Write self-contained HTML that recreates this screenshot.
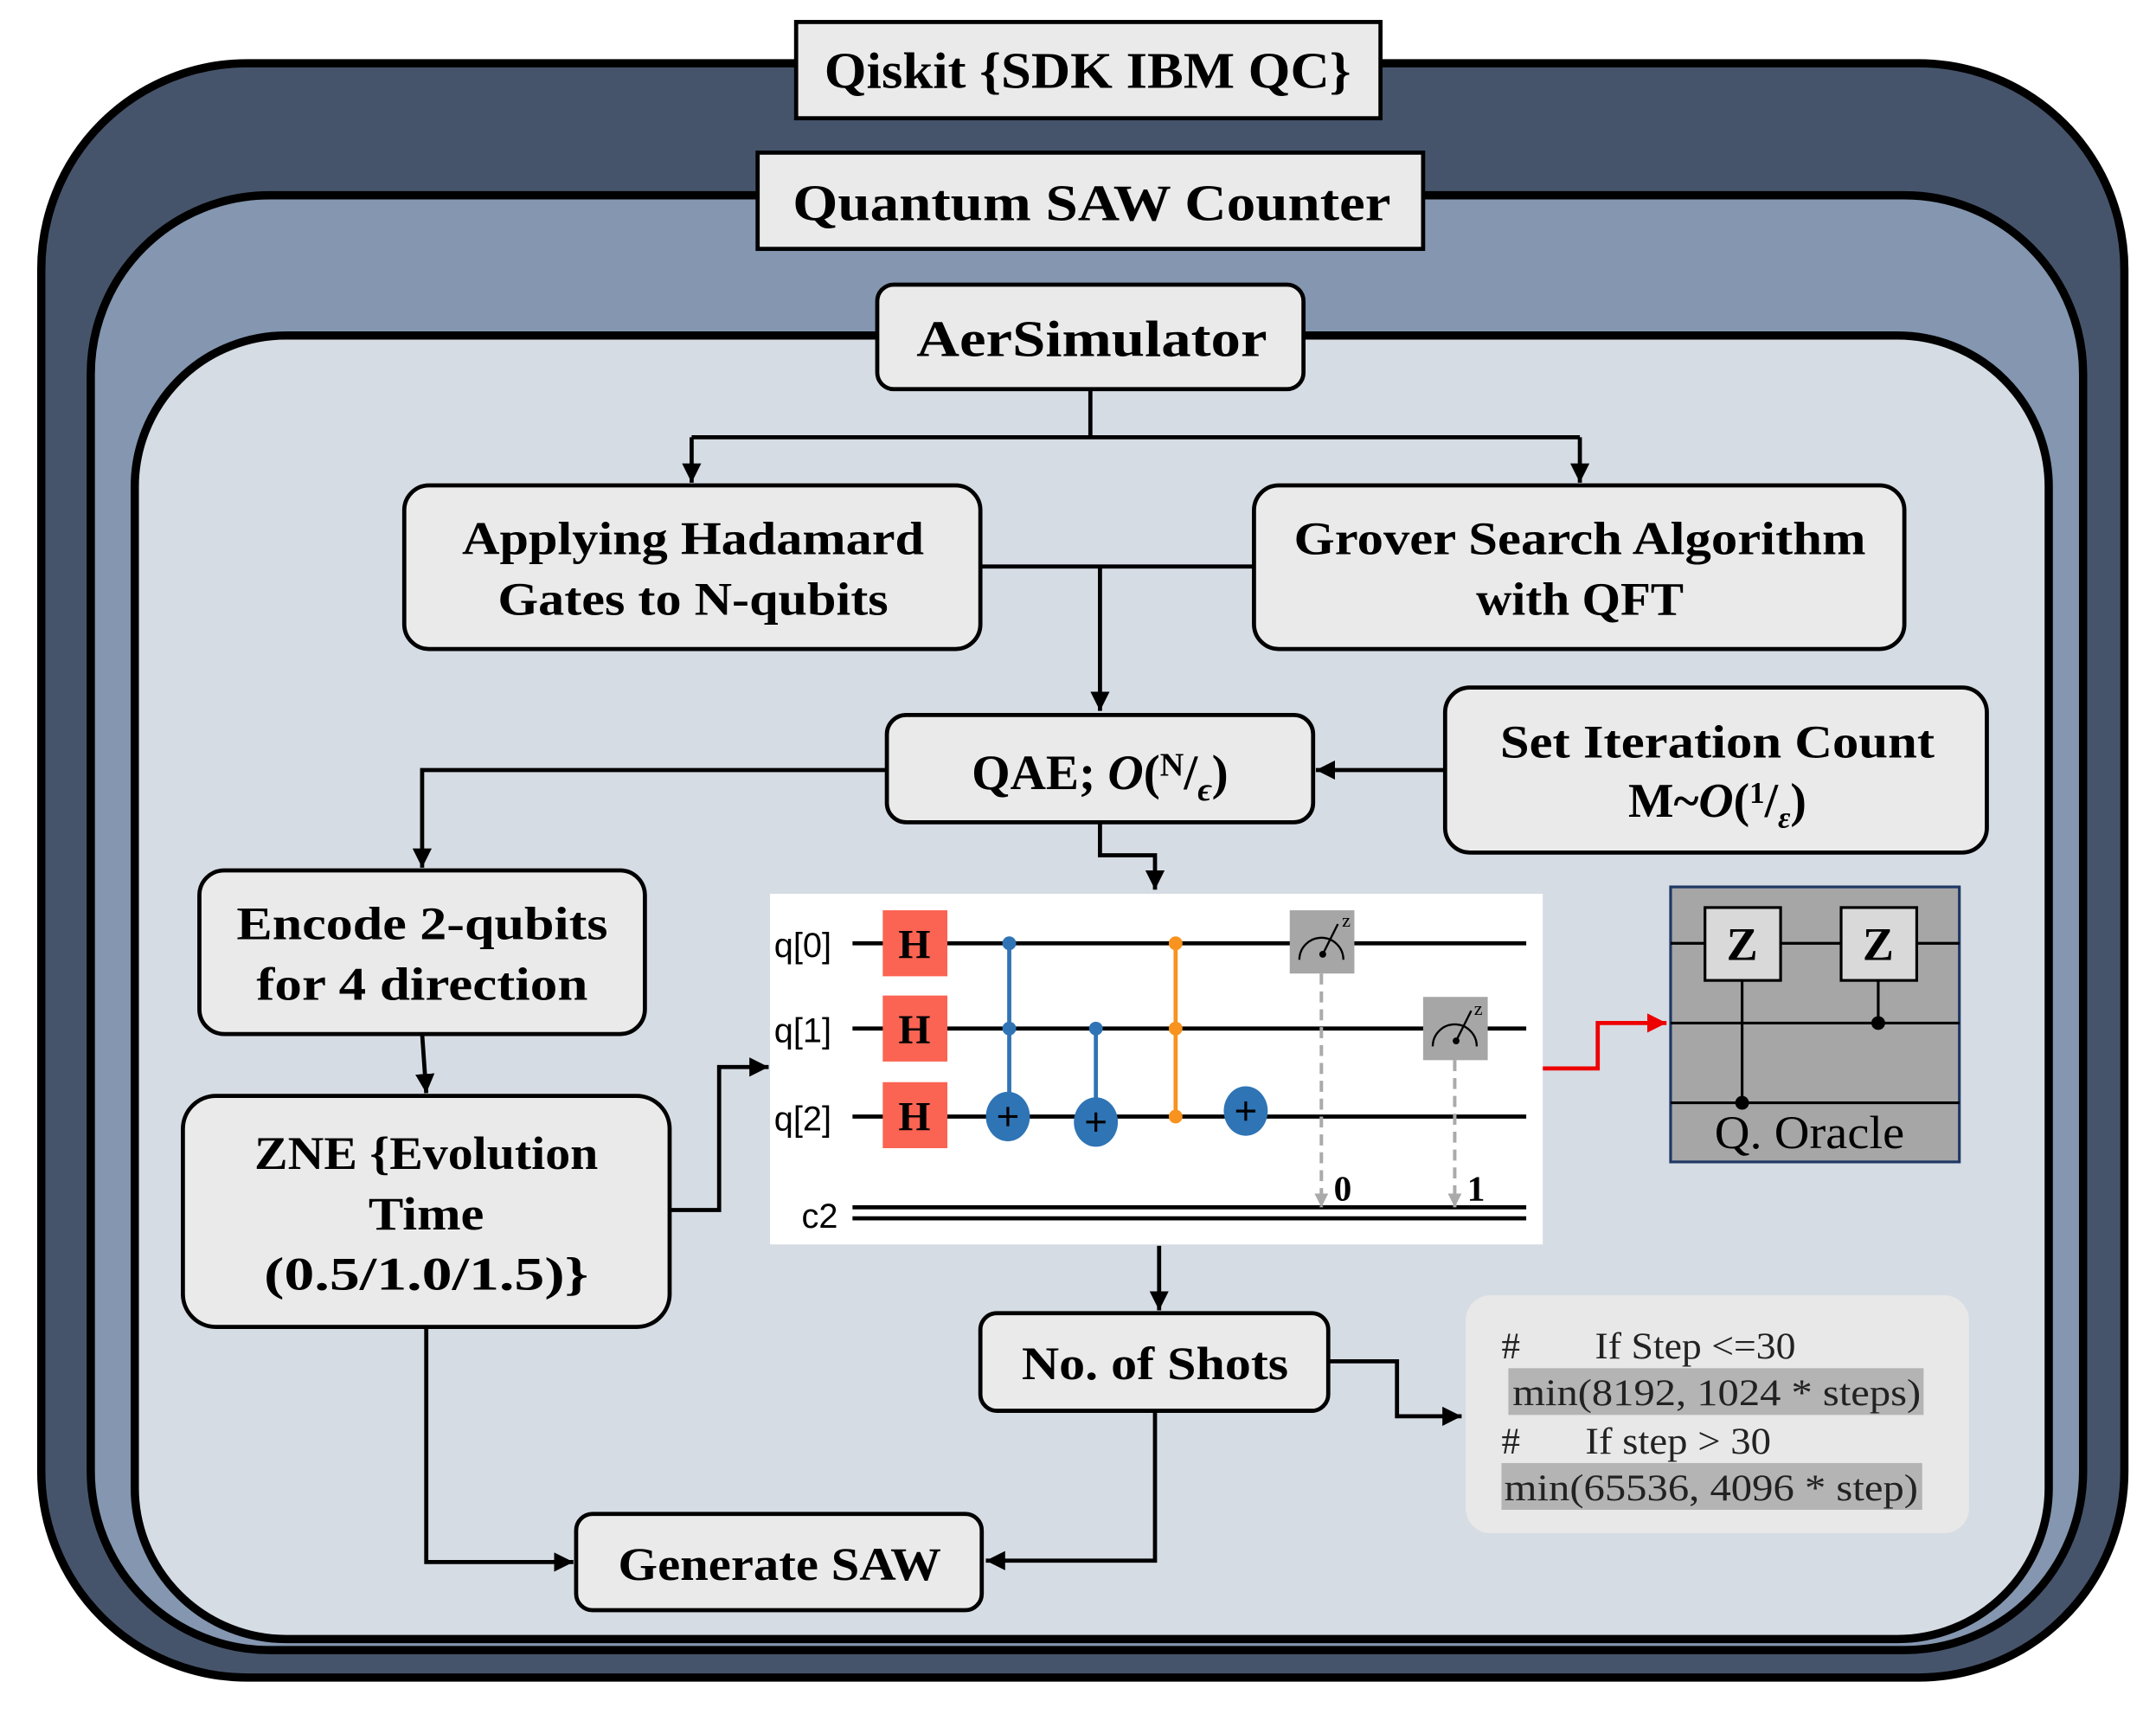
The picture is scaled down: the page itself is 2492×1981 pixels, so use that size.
<!DOCTYPE html>
<html><head><meta charset="utf-8"><style>html,body{margin:0;padding:0;background:#fff}svg{display:block}</style></head><body>
<svg width="2492" height="1981" viewBox="0 0 1568 1246.5" xmlns="http://www.w3.org/2000/svg">
<defs>
<marker id="b" viewBox="0 0 10 10" refX="10" refY="5" markerWidth="14" markerHeight="14" orient="auto" markerUnits="userSpaceOnUse"><path d="M0,0 L10,5 L0,10 z" fill="#000"/></marker>
<marker id="r" viewBox="0 0 10 10" refX="10" refY="5" markerWidth="14" markerHeight="14" orient="auto" markerUnits="userSpaceOnUse"><path d="M0,0 L10,5 L0,10 z" fill="#e00"/></marker>
<marker id="g" viewBox="0 0 10 10" refX="10" refY="5" markerWidth="10" markerHeight="12" orient="auto" markerUnits="userSpaceOnUse"><path d="M0,0 L10,5 L0,10 z" fill="#aaa"/></marker>
</defs>
<rect x="30" y="46" width="1515" height="1174" rx="150" fill="#46546b" stroke="#000" stroke-width="6"/>
<rect x="66" y="142" width="1449" height="1058" rx="130" fill="#8496b0" stroke="#000" stroke-width="6"/>
<rect x="98" y="244" width="1392" height="948" rx="110" fill="#d6dce4" stroke="#000" stroke-width="6"/>
<g font-family="Liberation Serif, serif" font-weight="bold" text-anchor="middle" fill="#000" lengthAdjust="spacingAndGlyphs">
<rect x="579" y="16" width="425" height="70" fill="#eaeaea" stroke="#000" stroke-width="3"/>
<text x="791" y="64" font-size="37" textLength="383" lengthAdjust="spacingAndGlyphs">Qiskit {SDK IBM QC}</text>
<rect x="551" y="111" width="484" height="70" fill="#eaeaea" stroke="#000" stroke-width="3"/>
<text x="794" y="160" font-size="37" textLength="435" lengthAdjust="spacingAndGlyphs">Quantum SAW Counter</text>
<rect x="638" y="207" width="310" height="76" rx="12" fill="#eaeaea" stroke="#000" stroke-width="3"/>
<text x="794" y="259" font-size="37" textLength="255" lengthAdjust="spacingAndGlyphs">AerSimulator</text>
<rect x="294" y="353" width="419" height="119" rx="18" fill="#eaeaea" stroke="#000" stroke-width="3"/>
<text x="504" y="403" font-size="34" textLength="336" lengthAdjust="spacingAndGlyphs">Applying Hadamard</text><text x="504" y="447" font-size="34" textLength="284" lengthAdjust="spacingAndGlyphs">Gates to N-qubits</text>
<rect x="912" y="353" width="473" height="119" rx="18" fill="#eaeaea" stroke="#000" stroke-width="3"/>
<text x="1149" y="403" font-size="34" textLength="416" lengthAdjust="spacingAndGlyphs">Grover Search Algorithm</text><text x="1149" y="447" font-size="34" textLength="151" lengthAdjust="spacingAndGlyphs">with QFT</text>
<rect x="645" y="520" width="310" height="78" rx="14" fill="#eaeaea" stroke="#000" stroke-width="3"/>
<text x="800" y="574" font-size="36">QAE; <tspan font-style="italic">O</tspan>(<tspan font-size="24" dy="-10">N</tspan><tspan dy="10">/</tspan><tspan font-size="24" dy="8" font-style="italic">ϵ</tspan><tspan dy="-8">)</tspan></text>
<rect x="1051" y="500" width="394" height="120" rx="18" fill="#eaeaea" stroke="#000" stroke-width="3"/>
<text x="1249" y="551" font-size="34" textLength="316" lengthAdjust="spacingAndGlyphs">Set Iteration Count</text>
<text x="1249" y="594" font-size="35">M~<tspan font-style="italic">O</tspan>(<tspan font-size="22" dy="-10">1</tspan><tspan dy="10">/</tspan><tspan font-size="22" dy="8" font-style="italic">ε</tspan><tspan dy="-8">)</tspan></text>
<rect x="145" y="633" width="324" height="119" rx="18" fill="#eaeaea" stroke="#000" stroke-width="3"/>
<text x="307" y="683" font-size="34" textLength="270" lengthAdjust="spacingAndGlyphs">Encode 2-qubits</text><text x="307" y="727" font-size="34" textLength="241" lengthAdjust="spacingAndGlyphs">for 4 direction</text>
<rect x="133" y="797" width="354" height="168" rx="24" fill="#eaeaea" stroke="#000" stroke-width="3"/>
<text x="310" y="850" font-size="34" textLength="250" lengthAdjust="spacingAndGlyphs">ZNE {Evolution</text><text x="310" y="894" font-size="34" textLength="84" lengthAdjust="spacingAndGlyphs">Time</text><text x="310" y="938" font-size="34" textLength="236" lengthAdjust="spacingAndGlyphs">(0.5/1.0/1.5)}</text>
<rect x="713" y="955" width="253" height="71" rx="12" fill="#eaeaea" stroke="#000" stroke-width="3"/>
<text x="840" y="1003" font-size="34" textLength="194" lengthAdjust="spacingAndGlyphs">No. of Shots</text>
<rect x="419" y="1101" width="295" height="70" rx="12" fill="#eaeaea" stroke="#000" stroke-width="3"/>
<text x="567" y="1149" font-size="34" textLength="235" lengthAdjust="spacingAndGlyphs">Generate SAW</text>
</g>
<g fill="none" stroke="#000" stroke-width="3">
<path d="M793,283 V318 M503,318 H1149"/>
<path d="M503,318 V351" marker-end="url(#b)"/>
<path d="M1149,318 V351" marker-end="url(#b)"/>
<path d="M713,412 H912 M800,412 V517" marker-end="url(#b)"/>
<path d="M1051,560 H957" marker-end="url(#b)"/>
<path d="M645,560 H307 V631" marker-end="url(#b)"/>
<path d="M307,752 L310,795" marker-end="url(#b)"/>
<path d="M487,880 H523 V776 H559" marker-end="url(#b)"/>
<path d="M800,598 V622 H840 V647" marker-end="url(#b)"/>
<path d="M843,906 V953" marker-end="url(#b)"/>
<path d="M966,990 H1016 V1030 H1063" marker-end="url(#b)"/>
<path d="M840,1026 V1135 H717" marker-end="url(#b)"/>
<path d="M310,965 V1136 H417" marker-end="url(#b)"/>
</g>
<path d="M1122,777 H1162 V744 H1212" fill="none" stroke="#e00" stroke-width="3" marker-end="url(#r)"/>
<rect x="560" y="650" width="562" height="255" fill="#fff"/>
<g font-family="Liberation Sans, sans-serif" font-size="25" fill="#000">
<text x="563" y="696">q[0]</text><text x="563" y="758">q[1]</text><text x="563" y="822">q[2]</text><text x="583" y="893">c2</text>
</g>
<g stroke="#000" stroke-width="3"><path d="M620,686 H1110 M620,748 H1110 M620,812 H1110 M620,878 H1110 M620,886 H1110" /></g>
<g fill="#fb6352"><rect x="642" y="662" width="47" height="48"/><rect x="642" y="724" width="47" height="48"/><rect x="642" y="787" width="47" height="48"/></g>
<g font-family="Liberation Serif, serif" font-weight="bold" font-size="30" text-anchor="middle"><text x="665" y="697">H</text><text x="665" y="759">H</text><text x="665" y="822">H</text></g>
<g stroke="#2f74b5" stroke-width="3"><path d="M734,686 V812 M797,748 V812"/></g>
<g fill="#2f74b5"><circle cx="734" cy="686" r="5"/><circle cx="734" cy="748" r="5"/><circle cx="797" cy="748" r="5"/>
<ellipse cx="733" cy="812" rx="16" ry="18"/><ellipse cx="797" cy="816" rx="16" ry="18"/><ellipse cx="906" cy="808" rx="16" ry="18"/></g>
<g stroke="#000" stroke-width="2"><path d="M726,812 H740 M733,805 V819 M790,816 H804 M797,809 V823 M899,808 H913 M906,801 V815"/></g>
<path d="M855,686 V812" stroke="#f7931e" stroke-width="3"/>
<g fill="#f7931e"><circle cx="855" cy="686" r="5"/><circle cx="855" cy="748" r="5"/><circle cx="855" cy="812" r="5"/></g>
<g stroke="#aaa" stroke-width="2.5" stroke-dasharray="8,5" fill="none"><path d="M961,708 V878" marker-end="url(#g)"/><path d="M1058,771 V878" marker-end="url(#g)"/></g>
<rect x="938" y="662" width="47" height="46" fill="#a6a6a6"/><rect x="1035" y="725" width="47" height="46" fill="#a6a6a6"/>
<g fill="none" stroke="#000" stroke-width="1.5"><path d="M945,698 A16,16 0 0 1 977,698 M962,694 L973,672"/><path d="M1042,761 A16,16 0 0 1 1074,761 M1059,757 L1070,735"/></g>
<circle cx="962" cy="694" r="2.5"/><circle cx="1059" cy="757" r="2.5"/>
<g font-family="Liberation Serif, serif" font-size="14"><text x="976" y="674">z</text><text x="1072" y="738">z</text></g>
<g font-family="Liberation Serif, serif" font-weight="bold" font-size="26"><text x="970" y="873">0</text><text x="1067" y="873">1</text></g>
<rect x="1215" y="645" width="210" height="200" fill="#a6a6a6" stroke="#1f3864" stroke-width="2"/>
<g stroke="#000" stroke-width="2"><path d="M1215,686 H1425 M1215,744 H1425 M1215,802 H1425 M1267,713 V802 M1366,713 V744"/></g>
<circle cx="1267" cy="802" r="5"/><circle cx="1366" cy="744" r="5"/>
<rect x="1240" y="660" width="55" height="53" fill="#d9d9d9" stroke="#000" stroke-width="2"/>
<rect x="1339" y="660" width="55" height="53" fill="#d9d9d9" stroke="#000" stroke-width="2"/>
<g font-family="Liberation Serif, serif" font-weight="bold" font-size="34" text-anchor="middle"><text x="1267" y="698">Z</text><text x="1366" y="698">Z</text></g>
<text x="1316" y="835" font-family="Liberation Serif, serif" font-size="34" text-anchor="middle" textLength="138" lengthAdjust="spacingAndGlyphs">Q. Oracle</text>
<rect x="1066" y="942" width="366" height="173" rx="18" fill="#e8e8e8"/>
<rect x="1097" y="995" width="302" height="34" fill="#b4b4b4"/>
<rect x="1092" y="1064" width="306" height="34" fill="#b4b4b4"/>
<g font-family="Liberation Serif, serif" font-size="27" fill="#222">
<text x="1092" y="988">#</text><text x="1160" y="988" textLength="146" lengthAdjust="spacingAndGlyphs">If Step &lt;=30</text>
<text x="1100" y="1022" textLength="297" lengthAdjust="spacingAndGlyphs">min(8192, 1024 * steps)</text>
<text x="1092" y="1057">#</text><text x="1153" y="1057" textLength="135" lengthAdjust="spacingAndGlyphs">If step &gt; 30</text>
<text x="1094" y="1091" textLength="301" lengthAdjust="spacingAndGlyphs">min(65536, 4096 * step)</text>
</g>
</svg>
</body></html>
